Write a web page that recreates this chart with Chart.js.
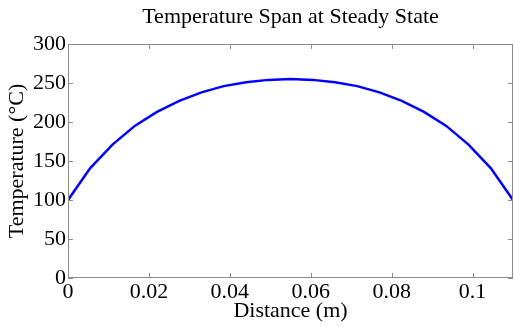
<!DOCTYPE html>
<html>
<head>
<meta charset="utf-8">
<script src="https://cdn.jsdelivr.net/npm/chart.js@4/dist/chart.umd.min.js"></script>
<style>
  html, body { margin: 0; padding: 0; background: #fff; }
  canvas { display: block; }
</style>
</head>
<body>
<canvas id="temp-chart" width="514" height="327"></canvas>
<script>
// Distance along the span (m) and steady-state temperature (°C)
const distance = [0, 0.0055, 0.011, 0.0165, 0.022, 0.0275, 0.033, 0.0385, 0.044, 0.0495, 0.055,
                  0.0605, 0.066, 0.0715, 0.077, 0.0825, 0.088, 0.0935, 0.099, 0.1045, 0.11];
const temperature = [100, 141, 171, 195, 213, 227, 238, 246, 251, 254, 255,
                     254, 251, 246, 238, 227, 213, 195, 171, 141, 100];
const xTicks = [0, 0.02, 0.04, 0.06, 0.08, 0.1];
const yTicks = [0, 50, 100, 150, 200, 250, 300];

const serif = 'Liberation Serif, Times New Roman, serif';

// MATLAB style box with ticks pointing into the plot
const boxTicks = {
    id: 'boxTicks',
    afterDraw(chart) {
        const { ctx, chartArea: a, scales } = chart;
        const len = 5;
        ctx.save();
        ctx.strokeStyle = '#8c8c8c';
        ctx.lineWidth = 1;
        ctx.strokeRect(a.left + 0.5, a.top + 0.5, a.right - a.left - 1, a.bottom - a.top - 1);
        ctx.beginPath();
        scales.x.ticks.forEach(t => {
            const px = Math.round(scales.x.getPixelForValue(t.value)) + 0.5;
            ctx.moveTo(px, a.bottom); ctx.lineTo(px, a.bottom - len);
            ctx.moveTo(px, a.top); ctx.lineTo(px, a.top + len);
        });
        scales.y.ticks.forEach(t => {
            const py = Math.round(scales.y.getPixelForValue(t.value)) + 0.5;
            ctx.moveTo(a.left, py); ctx.lineTo(a.left + len, py);
            ctx.moveTo(a.right, py); ctx.lineTo(a.right - len, py);
        });
        ctx.stroke();
        ctx.restore();
    }
};

const ctx = document.getElementById('temp-chart').getContext('2d');
const tempChart = new Chart(ctx, {
    type: 'scatter',
    data: {
        datasets: [{
            data: distance.map((d, i) => ({ x: d, y: temperature[i] })),
            showLine: true,
            borderColor: '#0000ff',
            borderWidth: 2.5,
            pointRadius: 0,
            fill: false
        }]
    },
    options: {
        responsive: false,
        animation: false,
        layout: { padding: { left: 0, right: 1, top: 0, bottom: 0 } },
        plugins: {
            legend: { display: false },
            tooltip: { enabled: false },
            title: {
                display: true,
                text: 'Temperature Span at Steady State',
                fullSize: false,
                color: '#000',
                font: { family: serif, size: 22, weight: 'normal' },
                padding: { top: 4, bottom: 13.6 }
            }
        },
        scales: {
            x: {
                type: 'linear',
                min: 0,
                max: 0.11,
                afterFit(scale) { scale.height = 49; },
                afterBuildTicks(scale) { scale.ticks = xTicks.map(v => ({ value: v })); },
                grid: { display: false, drawTicks: false },
                border: { display: false },
                ticks: {
                    color: '#000',
                    padding: 1,
                    maxRotation: 0,
                    font: { family: serif, size: 22 },
                    callback: v => String(v)
                },
                title: {
                    display: true,
                    text: 'Distance (m)',
                    color: '#000',
                    font: { family: serif, size: 22 },
                    padding: { top: 0, bottom: 3 }
                }
            },
            y: {
                min: 0,
                max: 300,
                afterFit(scale) { scale.width = 68; },
                afterBuildTicks(scale) { scale.ticks = yTicks.map(v => ({ value: v })); },
                grid: { display: false, drawTicks: false },
                border: { display: false },
                ticks: {
                    color: '#000',
                    padding: 2,
                    font: { family: serif, size: 22 }
                },
                title: {
                    display: true,
                    text: 'Temperature (°C)',
                    color: '#000',
                    font: { family: serif, size: 22 },
                    padding: { top: 4, bottom: 0 }
                }
            }
        }
    },
    plugins: [boxTicks]
});
</script>
</body>
</html>
